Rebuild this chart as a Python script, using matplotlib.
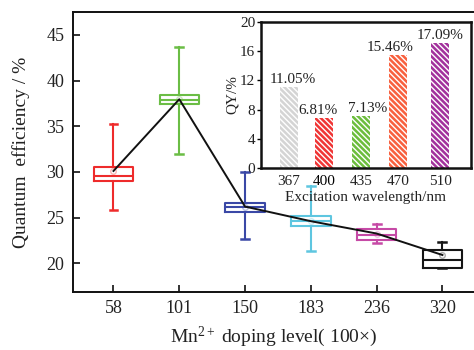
import matplotlib
matplotlib.use("Agg")
import matplotlib.pyplot as plt

plt.rcParams['font.family'] = ['Liberation Serif', 'DejaVu Serif']
plt.rcParams['mathtext.fontset'] = 'custom'
plt.rcParams['mathtext.rm'] = 'Liberation Serif'
plt.rcParams['mathtext.it'] = 'Liberation Serif:italic'
plt.rcParams['hatch.linewidth'] = 1.0

# ---- main box plot data ----
doping = ["58", "101", "150", "183", "236", "320"]
whis_lo = [25.8, 32.0, 22.6, 21.3, 22.2, 19.5]
q1 = [29.0, 37.4, 25.65, 24.1, 22.5, 19.45]
median = [29.5, 37.9, 26.1, 24.6, 23.05, 20.4]
q3 = [30.5, 38.4, 26.6, 25.2, 23.8, 21.4]
whis_hi = [35.2, 43.7, 30.0, 28.4, 24.3, 22.3]
mean = [30.1, 37.95, 26.2, 24.6, 23.25, 20.9]
box_colors = ["#ee2b2b", "#6bbd45", "#3a48a6", "#5ec6e0", "#c64aa6", "#151515"]

# ---- inset bar data ----
wavelength = [367, 400, 435, 470, 510]
qy = [11.05, 6.81, 7.13, 15.46, 17.09]
qy_labels = ["11.05%", "6.81%", "7.13%", "15.46%", "17.09%"]
bar_colors = ["#d4d4d4", "#f03535", "#6cbd3c", "#f8603e", "#a2319c"]

txt = "#222222"

fig = plt.figure(figsize=(4.74, 3.5), dpi=100)
ax = fig.add_axes([72.7 / 474, 58 / 350, (474 - 72.7) / 474, 280 / 350])

stats = []
for i in range(len(doping)):
    stats.append(dict(whislo=whis_lo[i], q1=q1[i], med=median[i], q3=q3[i],
                      whishi=whis_hi[i], mean=mean[i], label=doping[i]))
pos = list(range(len(doping)))
bp = ax.bxp(stats, positions=pos, widths=0.6, showmeans=True,
            showfliers=False, capwidths=0.12, patch_artist=False)
for i, c in enumerate(box_colors):
    bp['boxes'][i].set(color=c, linewidth=1.5)
    bp['medians'][i].set(color=c, linewidth=1.5)
    for w in bp['whiskers'][2 * i:2 * i + 2]:
        w.set(color=c, linewidth=1.5)
    for cp in bp['caps'][2 * i:2 * i + 2]:
        cp.set(color=c, linewidth=1.8)
    bp['means'][i].set(marker='o', markersize=4, markerfacecolor='none',
                       markeredgecolor=c, alpha=0.35)

ax.plot(pos, mean, color='#111111', linewidth=1.4, zorder=5)

ax.set_xlim(-0.62, 5.48)
ax.set_ylim(16.85, 47.5)
ax.set_yticks([20, 25, 30, 35, 40, 45])
ax.set_xticks(pos)
ax.set_xticklabels(doping)
ax.tick_params(direction='in', length=5, width=1.2, labelsize=13,
               colors='#111111', labelcolor=txt, pad=6)
ax.tick_params(axis='x', pad=6)
for s in ['left', 'bottom', 'top']:
    ax.spines[s].set_linewidth(1.4)
    ax.spines[s].set_color('#111111')
ax.spines['right'].set_visible(False)
ax.set_ylabel("Quantum  efficiency / %", fontsize=14, color=txt, labelpad=12)
ax.set_xlabel("Mn$^{2+}$ doping level( 100×)", fontsize=14, color=txt,
              labelpad=5)

# ---- inset ----
ins = fig.add_axes([260.7 / 474, (350 - 168.3) / 350, 210 / 474, 146.6 / 350])
bars = ins.bar(wavelength, qy, width=17, color=bar_colors,
               edgecolor='white', linewidth=0, hatch='\\\\\\\\\\\\')
for b, c in zip(bars, bar_colors):
    b.set_facecolor(c)
label_dx = [3, -4, 5, -6, 0]
for x, y, l, dx in zip(wavelength, qy, qy_labels, label_dx):
    ins.annotate(l, (x, y), xytext=(dx, 1), textcoords='offset points',
                 ha='center', va='bottom', fontsize=11, color=txt)
ins.set_xlim(340.3, 538.7)
ins.set_ylim(0, 20)
ins.set_yticks([0, 4, 8, 12, 16, 20])
ins.set_xticks(wavelength)
ins.set_xticklabels([str(w) for w in wavelength])
ins.tick_params(axis='y', direction='out', length=3, width=1, labelsize=11,
                labelcolor=txt, pad=1)
ins.tick_params(axis='x', length=0, labelsize=11, labelcolor=txt, pad=5)
ins.get_xticklabels()[1].set_color('#000000')
for s in ins.spines.values():
    s.set_linewidth(1.8)
    s.set_color('#111111')
ins.set_ylabel("QY/%", fontsize=11, color=txt, labelpad=1)
ins.set_xlabel("Excitation wavelength/nm", fontsize=11, color=txt, labelpad=2)

fig.savefig("out.png", dpi=100)
